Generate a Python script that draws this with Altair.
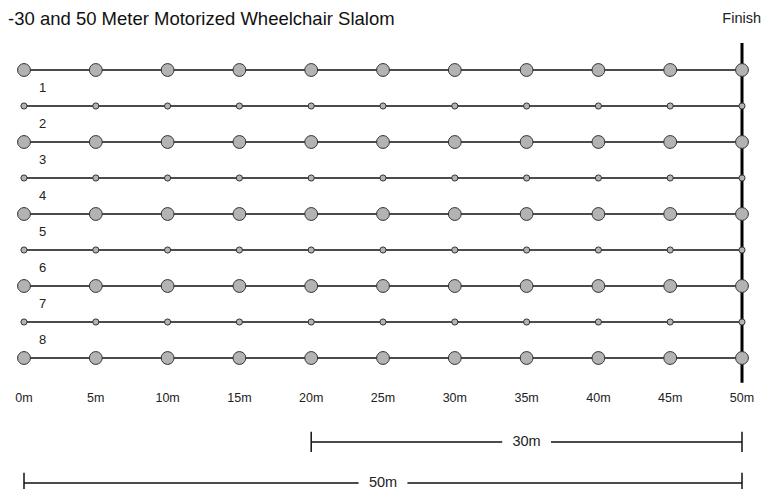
import altair as alt
import pandas as pd

# ---- data ----
distances = [0, 5, 10, 15, 20, 25, 30, 35, 40, 45, 50]
tick_labels = ["0m", "5m", "10m", "15m", "20m", "25m", "30m", "35m", "40m", "45m", "50m"]
rows = [0, 1, 2, 3, 4, 5, 6, 7, 8]
row_kinds = ["big", "small", "big", "small", "big", "small", "big", "small", "big"]
lane_numbers = ["1", "2", "3", "4", "5", "6", "7", "8"]
dim_labels = ["30m", "50m"]
dim_starts = [20, 0]
dim_ends = [50, 50]
dim_rows = [10.33, 11.47]
title_text = "-30 and 50 Meter Motorized Wheelchair Slalom"
finish_text = "Finish"

# ---- geometry ----
W, H = 755, 481
PX_PER_M = 14.36
X0 = -16 / PX_PER_M
X1 = X0 + W / PX_PER_M
ROW_PX = 36.0
Y0 = -62 / ROW_PX
Y1 = Y0 + H / ROW_PX

xs = alt.Scale(domain=[X0, X1], nice=False, zero=False)
ys = alt.Scale(domain=[Y0, Y1], nice=False, zero=False, reverse=True)
FONT = "Liberation Sans"

circ_df = pd.DataFrame(
    [{"d": d, "row": r, "kind": k} for r, k in zip(rows, row_kinds) for d in distances]
)
line_df = pd.DataFrame({"row": rows, "start": distances[0], "end": distances[-1]})
lane_df = pd.DataFrame({"label": lane_numbers, "row": [r + 0.5 for r in rows[:-1]], "x": 1.3})
tick_df = pd.DataFrame({"d": distances, "label": tick_labels, "row": 9.11})
finish_df = pd.DataFrame({"x": [distances[-1]], "y": [-0.75], "y2": [8.69]})

gap = 1.7
seg_rows = []
tick_rows = []
lab_rows = []
for lab, s, e, r in zip(dim_labels, dim_starts, dim_ends, dim_rows):
    mid = (s + e) / 2
    seg_rows.append({"a": s, "b": mid - gap, "row": r})
    seg_rows.append({"a": mid + gap, "b": e, "row": r})
    tick_rows.append({"x": s, "y": r - 0.28, "y2": r + 0.28})
    tick_rows.append({"x": e, "y": r - 0.28, "y2": r + 0.28})
    lab_rows.append({"x": mid, "row": r, "label": lab})
seg_df = pd.DataFrame(seg_rows)
dtick_df = pd.DataFrame(tick_rows)
dlab_df = pd.DataFrame(lab_rows)

lines = alt.Chart(line_df).mark_rule(color="#111", strokeWidth=1.5).encode(
    x=alt.X("start:Q", scale=xs, axis=None), x2="end:Q",
    y=alt.Y("row:Q", scale=ys, axis=None))

finish = alt.Chart(finish_df).mark_rule(color="#000", strokeWidth=3).encode(
    x=alt.X("x:Q", scale=xs, axis=None),
    y=alt.Y("y:Q", scale=ys, axis=None), y2="y2:Q")

circles = alt.Chart(circ_df).mark_circle(opacity=1, fill="#b3b3b3", stroke="#333", strokeWidth=1).encode(
    x=alt.X("d:Q", scale=xs, axis=None),
    y=alt.Y("row:Q", scale=ys, axis=None),
    size=alt.Size("kind:N", scale=alt.Scale(domain=["big", "small"], range=[165, 38]), legend=None))

lanes = alt.Chart(lane_df).mark_text(font=FONT, fontSize=13, color="#222").encode(
    x=alt.X("x:Q", scale=xs, axis=None), y=alt.Y("row:Q", scale=ys, axis=None), text="label:N")

ticks = alt.Chart(tick_df).mark_text(font=FONT, fontSize=12.5, color="#222").encode(
    x=alt.X("d:Q", scale=xs, axis=None), y=alt.Y("row:Q", scale=ys, axis=None), text="label:N")

segs = alt.Chart(seg_df).mark_rule(color="#111", strokeWidth=1.5).encode(
    x=alt.X("a:Q", scale=xs, axis=None), x2="b:Q", y=alt.Y("row:Q", scale=ys, axis=None))

dticks = alt.Chart(dtick_df).mark_rule(color="#111", strokeWidth=1.5).encode(
    x=alt.X("x:Q", scale=xs, axis=None), y=alt.Y("y:Q", scale=ys, axis=None), y2="y2:Q")

dlabs = alt.Chart(dlab_df).mark_text(font=FONT, fontSize=14.5, color="#222").encode(
    x=alt.X("x:Q", scale=xs, axis=None), y=alt.Y("row:Q", scale=ys, axis=None), text="label:N")

finish_lab = alt.Chart(pd.DataFrame({"t": [finish_text], "x": [X1], "y": [-1.43]})).mark_text(
    font=FONT, fontSize=14.5, color="#222", align="right", dx=-2).encode(
    x=alt.X("x:Q", scale=xs, axis=None), y=alt.Y("y:Q", scale=ys, axis=None), text="t:N")

title = alt.Chart(pd.DataFrame({"t": [title_text]})).mark_text(
    font=FONT, fontSize=18.5, color="#111", align="left", baseline="alphabetic").encode(
    x=alt.value(0), y=alt.value(17), text="t:N")

chart = alt.layer(lines, finish, circles, lanes, ticks, segs, dticks, dlabs, finish_lab, title).properties(
    width=W, height=H, autosize=alt.AutoSizeParams(type="none"), padding=0
).configure_view(stroke=None)

chart.save("out.html", embed_options={"renderer": "svg", "actions": False})
